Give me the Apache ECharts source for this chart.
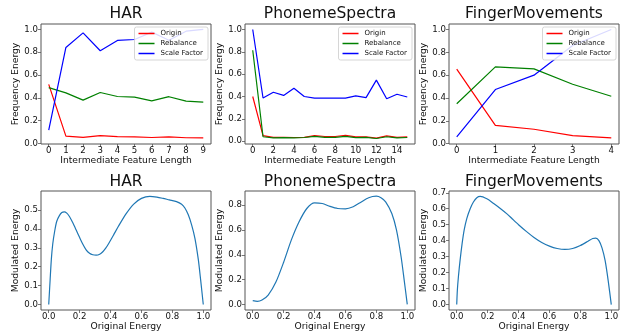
<!DOCTYPE html>
<html>
<head>
<meta charset="utf-8">
<script src="https://cdn.jsdelivr.net/npm/echarts@6/dist/echarts.min.js"></script>
<style>
html, body {margin: 0; padding: 0; background: #fff;}
#chart {width: 625px; height: 332px;}
</style>
</head>
<body>
<div id="chart"></div>
<script>
// top row: energy per intermediate feature length
const harLen = [0, 1, 2, 3, 4, 5, 6, 7, 8, 9];
const harOrigin = [0.518, 0.064, 0.053, 0.068, 0.06, 0.058, 0.052, 0.058, 0.05, 0.049];
const harRebalance = [0.49, 0.444, 0.38, 0.447, 0.412, 0.406, 0.374, 0.41, 0.371, 0.363];
const harScale = [0.117, 0.842, 0.97, 0.813, 0.904, 0.912, 0.977, 0.906, 0.985, 1.0];

const phonemeLen = [0, 1, 2, 3, 4, 5, 6, 7, 8, 9, 10, 11, 12, 13, 14, 15];
const phonemeOrigin = [0.40, 0.05, 0.035, 0.035, 0.033, 0.035, 0.05, 0.042, 0.042, 0.052, 0.038, 0.038, 0.028, 0.048, 0.035, 0.038];
const phonemeRebalance = [0.814, 0.04, 0.03, 0.032, 0.03, 0.033, 0.043, 0.034, 0.034, 0.043, 0.032, 0.034, 0.024, 0.04, 0.03, 0.033];
const phonemeScale = [1.0, 0.387, 0.438, 0.41, 0.474, 0.40, 0.385, 0.385, 0.385, 0.385, 0.405, 0.39, 0.547, 0.38, 0.42, 0.396];

const fingerLen = [0, 1, 2, 3, 4];
const fingerOrigin = [0.652, 0.16, 0.126, 0.07, 0.05];
const fingerRebalance = [0.35, 0.672, 0.655, 0.52, 0.415];
const fingerScale = [0.06, 0.474, 0.6, 0.86, 1.0];

// bottom row: modulated energy curves
const harEnergyX = [0, 0.009, 0.017, 0.026, 0.039, 0.052, 0.069, 0.085, 0.1, 0.117, 0.134, 0.155, 0.177, 0.2, 0.22, 0.242, 0.264, 0.285, 0.307, 0.33, 0.35, 0.37, 0.39, 0.42, 0.45, 0.5, 0.55, 0.6, 0.654, 0.7, 0.74, 0.78, 0.827, 0.86, 0.881, 0.903, 0.925, 0.946, 0.968, 0.983, 1.0];
const harEnergyY = [0, 0.13, 0.24, 0.32, 0.39, 0.44, 0.47, 0.486, 0.49, 0.483, 0.465, 0.433, 0.395, 0.354, 0.32, 0.289, 0.271, 0.263, 0.261, 0.266, 0.279, 0.299, 0.325, 0.368, 0.412, 0.479, 0.531, 0.561, 0.572, 0.568, 0.561, 0.553, 0.544, 0.53, 0.51, 0.474, 0.42, 0.35, 0.237, 0.13, 0];

const phonemeEnergyX = [0, 0.03, 0.06, 0.1, 0.15, 0.2, 0.25, 0.3, 0.35, 0.4, 0.45, 0.5, 0.55, 0.6, 0.65, 0.7, 0.75, 0.8, 0.83, 0.86, 0.9, 0.93, 0.96, 0.98, 1.0];
const phonemeEnergyY = [0.03, 0.024, 0.035, 0.075, 0.18, 0.34, 0.52, 0.666, 0.773, 0.819, 0.813, 0.79, 0.773, 0.77, 0.787, 0.824, 0.86, 0.872, 0.86, 0.827, 0.733, 0.6, 0.384, 0.196, 0];

const fingerEnergyX = [0, 0.004, 0.011, 0.022, 0.035, 0.048, 0.065, 0.087, 0.108, 0.13, 0.152, 0.195, 0.239, 0.282, 0.325, 0.36, 0.4, 0.45, 0.5, 0.55, 0.6, 0.65, 0.7, 0.75, 0.8, 0.85, 0.88, 0.9, 0.92, 0.94, 0.96, 0.98, 1.0];
const fingerEnergyY = [0, 0.09, 0.176, 0.28, 0.383, 0.466, 0.538, 0.6, 0.642, 0.669, 0.677, 0.662, 0.633, 0.602, 0.568, 0.536, 0.5, 0.458, 0.42, 0.389, 0.366, 0.351, 0.345, 0.351, 0.37, 0.397, 0.414, 0.416, 0.4, 0.355, 0.276, 0.15, 0];

// tick labels
const harLenTicks = [0, 1, 2, 3, 4, 5, 6, 7, 8, 9];
const phonemeLenTicks = [0, 2, 4, 6, 8, 10, 12, 14];
const fingerLenTicks = [0, 1, 2, 3, 4];
const freqTicks = [0, 0.2, 0.4, 0.6, 0.8, 1.0];
const origTicks = [0, 0.2, 0.4, 0.6, 0.8, 1.0];
const harModTicks = [0, 0.1, 0.2, 0.3, 0.4, 0.5];
const phonemeModTicks = [0, 0.2, 0.4, 0.6, 0.8];
const fingerModTicks = [0, 0.1, 0.2, 0.3, 0.4, 0.5, 0.6, 0.7];

const FONT = 'DejaVu Sans';
const INK = '#111';
const SPINE = '#555';

const cols = [41, 245, 449];
const colW = 170;
const rows = [{top: 24, height: 120}, {top: 191, height: 119}];

const zip = (xs, ys) => xs.map((x, i) => [x, ys[i]]);

function axis(gridIndex, min, max, ticks, digits, name, gap, labelMargin) {
    return {
        type: 'value', gridIndex, min, max,
        name, nameLocation: 'middle', nameGap: gap,
        nameTextStyle: {fontSize: 9.2, color: INK, fontFamily: FONT},
        axisLine: {show: false, onZero: false},
        splitLine: {show: false},
        axisTick: {show: true, length: 3, lineStyle: {color: SPINE, width: 0.8}, customValues: ticks},
        axisLabel: {
            fontSize: 8.6, color: INK, fontFamily: FONT, margin: labelMargin,
            customValues: ticks,
            formatter: v => v.toFixed(digits)
        }
    };
}

const grids = [];
const titles = [];
const names = ['HAR', 'PhonemeSpectra', 'FingerMovements'];
rows.forEach((r, ri) => {
    cols.forEach((left, ci) => {
        grids.push({
            left, top: r.top, width: colW, height: r.height,
            show: true, borderColor: SPINE, borderWidth: 1, backgroundColor: 'transparent'
        });
        titles.push({
            text: names[ci], left: left + colW / 2, top: ri === 0 ? 6 : 174,
            textAlign: 'center', padding: 0,
            textStyle: {fontSize: 15.5, fontWeight: 'normal', color: INK, fontFamily: FONT}
        });
    });
});

const xAxes = [
    axis(0, -0.45, 9.45, harLenTicks, 0, 'Intermediate Feature Length', 12, 2),
    axis(1, -0.75, 15.75, phonemeLenTicks, 0, 'Intermediate Feature Length', 12, 2),
    axis(2, -0.2, 4.2, fingerLenTicks, 0, 'Intermediate Feature Length', 12, 2),
    axis(3, -0.05, 1.05, origTicks, 1, 'Original Energy', 12, 2),
    axis(4, -0.05, 1.05, origTicks, 1, 'Original Energy', 12, 2),
    axis(5, -0.05, 1.05, origTicks, 1, 'Original Energy', 12, 2)
];
const yAxes = [
    axis(0, -0.005, 1.048, freqTicks, 1, 'Frequency Energy', 17, 3),
    axis(1, -0.025, 1.049, freqTicks, 1, 'Frequency Energy', 17, 3),
    axis(2, -0.003, 1.048, freqTicks, 1, 'Frequency Energy', 17, 3),
    axis(3, -0.029, 0.6, harModTicks, 1, 'Modulated Energy', 16, 3),
    axis(4, -0.045, 0.914, phonemeModTicks, 1, 'Modulated Energy', 17, 3),
    axis(5, -0.034, 0.711, fingerModTicks, 1, 'Modulated Energy', 17, 3)
];

const lineColors = {Origin: '#ff0000', Rebalance: '#008000', 'Scale Factor': '#0000ff'};
const series = [];
function addLine(idx, name, xs, ys) {
    series.push({
        type: 'line', name, xAxisIndex: idx, yAxisIndex: idx,
        data: zip(xs, ys), symbol: 'none', animation: false,
        lineStyle: {color: lineColors[name], width: 1.2},
        itemStyle: {color: lineColors[name]}
    });
}
addLine(0, 'Origin', harLen, harOrigin);
addLine(0, 'Rebalance', harLen, harRebalance);
addLine(0, 'Scale Factor', harLen, harScale);
addLine(1, 'Origin', phonemeLen, phonemeOrigin);
addLine(1, 'Rebalance', phonemeLen, phonemeRebalance);
addLine(1, 'Scale Factor', phonemeLen, phonemeScale);
addLine(2, 'Origin', fingerLen, fingerOrigin);
addLine(2, 'Rebalance', fingerLen, fingerRebalance);
addLine(2, 'Scale Factor', fingerLen, fingerScale);

[[harEnergyX, harEnergyY], [phonemeEnergyX, phonemeEnergyY], [fingerEnergyX, fingerEnergyY]].forEach(([xs, ys], i) => {
    series.push({
        type: 'line', name: 'energy' + i, xAxisIndex: 3 + i, yAxisIndex: 3 + i,
        data: zip(xs, ys), symbol: 'none', smooth: 0.25, animation: false,
        lineStyle: {color: '#1f77b4', width: 1.2}
    });
});

// one legend per top panel, pinned to the upper right corner
const legends = [0, 1, 2].map(ci => ({
    data: ['Origin', 'Rebalance', 'Scale Factor'],
    orient: 'vertical',
    right: 625 - (cols[ci] + colW - 3),
    top: rows[0].top + 3,
    icon: 'rect', itemWidth: 16, itemHeight: 1.5, itemGap: 3,
    padding: [3, 5, 3, 4],
    backgroundColor: 'rgba(255,255,255,0.85)',
    borderColor: '#ccc', borderWidth: 0.8, borderRadius: 2,
    selectedMode: false,
    textStyle: {fontSize: 7, color: INK, fontFamily: FONT, padding: [0, 0, 0, 1]}
}));

const chart = echarts.init(document.getElementById('chart'));
chart.setOption({
    backgroundColor: '#fff',
    animation: false,
    title: titles,
    grid: grids,
    xAxis: xAxes,
    yAxis: yAxes,
    legend: legends,
    series
});
</script>
</body>
</html>
